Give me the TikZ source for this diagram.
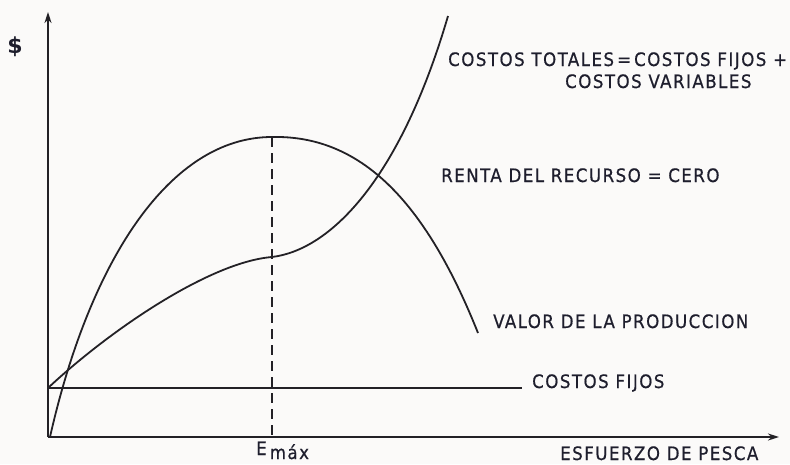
\documentclass[tikz,border=0pt]{standalone}
\usepackage{fontspec}
\setmainfont{DejaVu Sans Condensed}[LetterSpace=8,FakeBold=0.6]
\newfontfamily\dollarfont{DejaVu Sans Bold}
\usetikzlibrary{arrows.meta}
\definecolor{bg}{RGB}{251,250,249}
\definecolor{ink}{RGB}{35,33,38}
\definecolor{txt}{RGB}{30,30,45}
\begin{document}
\begin{tikzpicture}[x=1pt,y=-1pt,
  lbl/.style={anchor=base west, inner sep=0pt, font=\fontsize{18.5}{20}\selectfont, text=txt},
  curve/.style={line width=1.8pt, draw=ink},
  axis/.style={line width=2.3pt, draw=ink, -{Stealth[length=11pt,width=7pt]}},
  guide/.style={line width=1.7pt, draw=ink, dash pattern=on 10pt off 6pt}]
\useasboundingbox[fill=bg] (0,0) rectangle (790,464);
% key points
\coordinate (O) at (48,437);
\coordinate (ytip) at (48,12);
\coordinate (xtip) at (779,437);
\coordinate (cf0) at (48,388);
\coordinate (cf1) at (522,388);
\coordinate (v0) at (50,437);
\coordinate (vmax) at (272,137);
\coordinate (v1) at (478,333);
\coordinate (ct0) at (48,388);
\coordinate (ctm) at (272,257);
\coordinate (ct1) at (448,16);
\coordinate (emax) at (272,437);
% axes
\draw[axis] (O) -- (ytip);
\draw[axis] (O) -- (xtip);
% fixed costs
\draw[curve] (cf0) -- (cf1);
% value of production
\draw[curve] (v0) .. controls (90,260) and (170,137) .. (vmax)
                  .. controls (360,135) and (425,200) .. (v1);
% total costs
\draw[curve] (ct0) .. controls (110,330) and (210,262) .. (ctm)
                   .. controls (330,250) and (400,180) .. (ct1);
% E max guide
\draw[guide] (vmax) -- (emax);
% labels
\node[anchor=center, inner sep=0pt, text=txt, font=\fontsize{22}{24}\dollarfont] (dollar) at (15,47) {\$};
\node[lbl] (ct) at (448,66) {COSTOS TOTALES\,=\,COSTOS FIJOS +};
\node[lbl] (ct2) at (565,88) {COSTOS VARIABLES};
\node[lbl] (renta) at (441,182) {RENTA DEL RECURSO = CERO};
\node[lbl] (valor) at (493,328) {VALOR DE LA PRODUCCION};
\node[lbl] (cfl) at (532,388) {COSTOS FIJOS};
\node[lbl] (esf) at (560,460) {ESFUERZO DE PESCA};
\node[lbl] (em) at (256,455) {E\,\raisebox{-4pt}{máx}};
\end{tikzpicture}
\end{document}
